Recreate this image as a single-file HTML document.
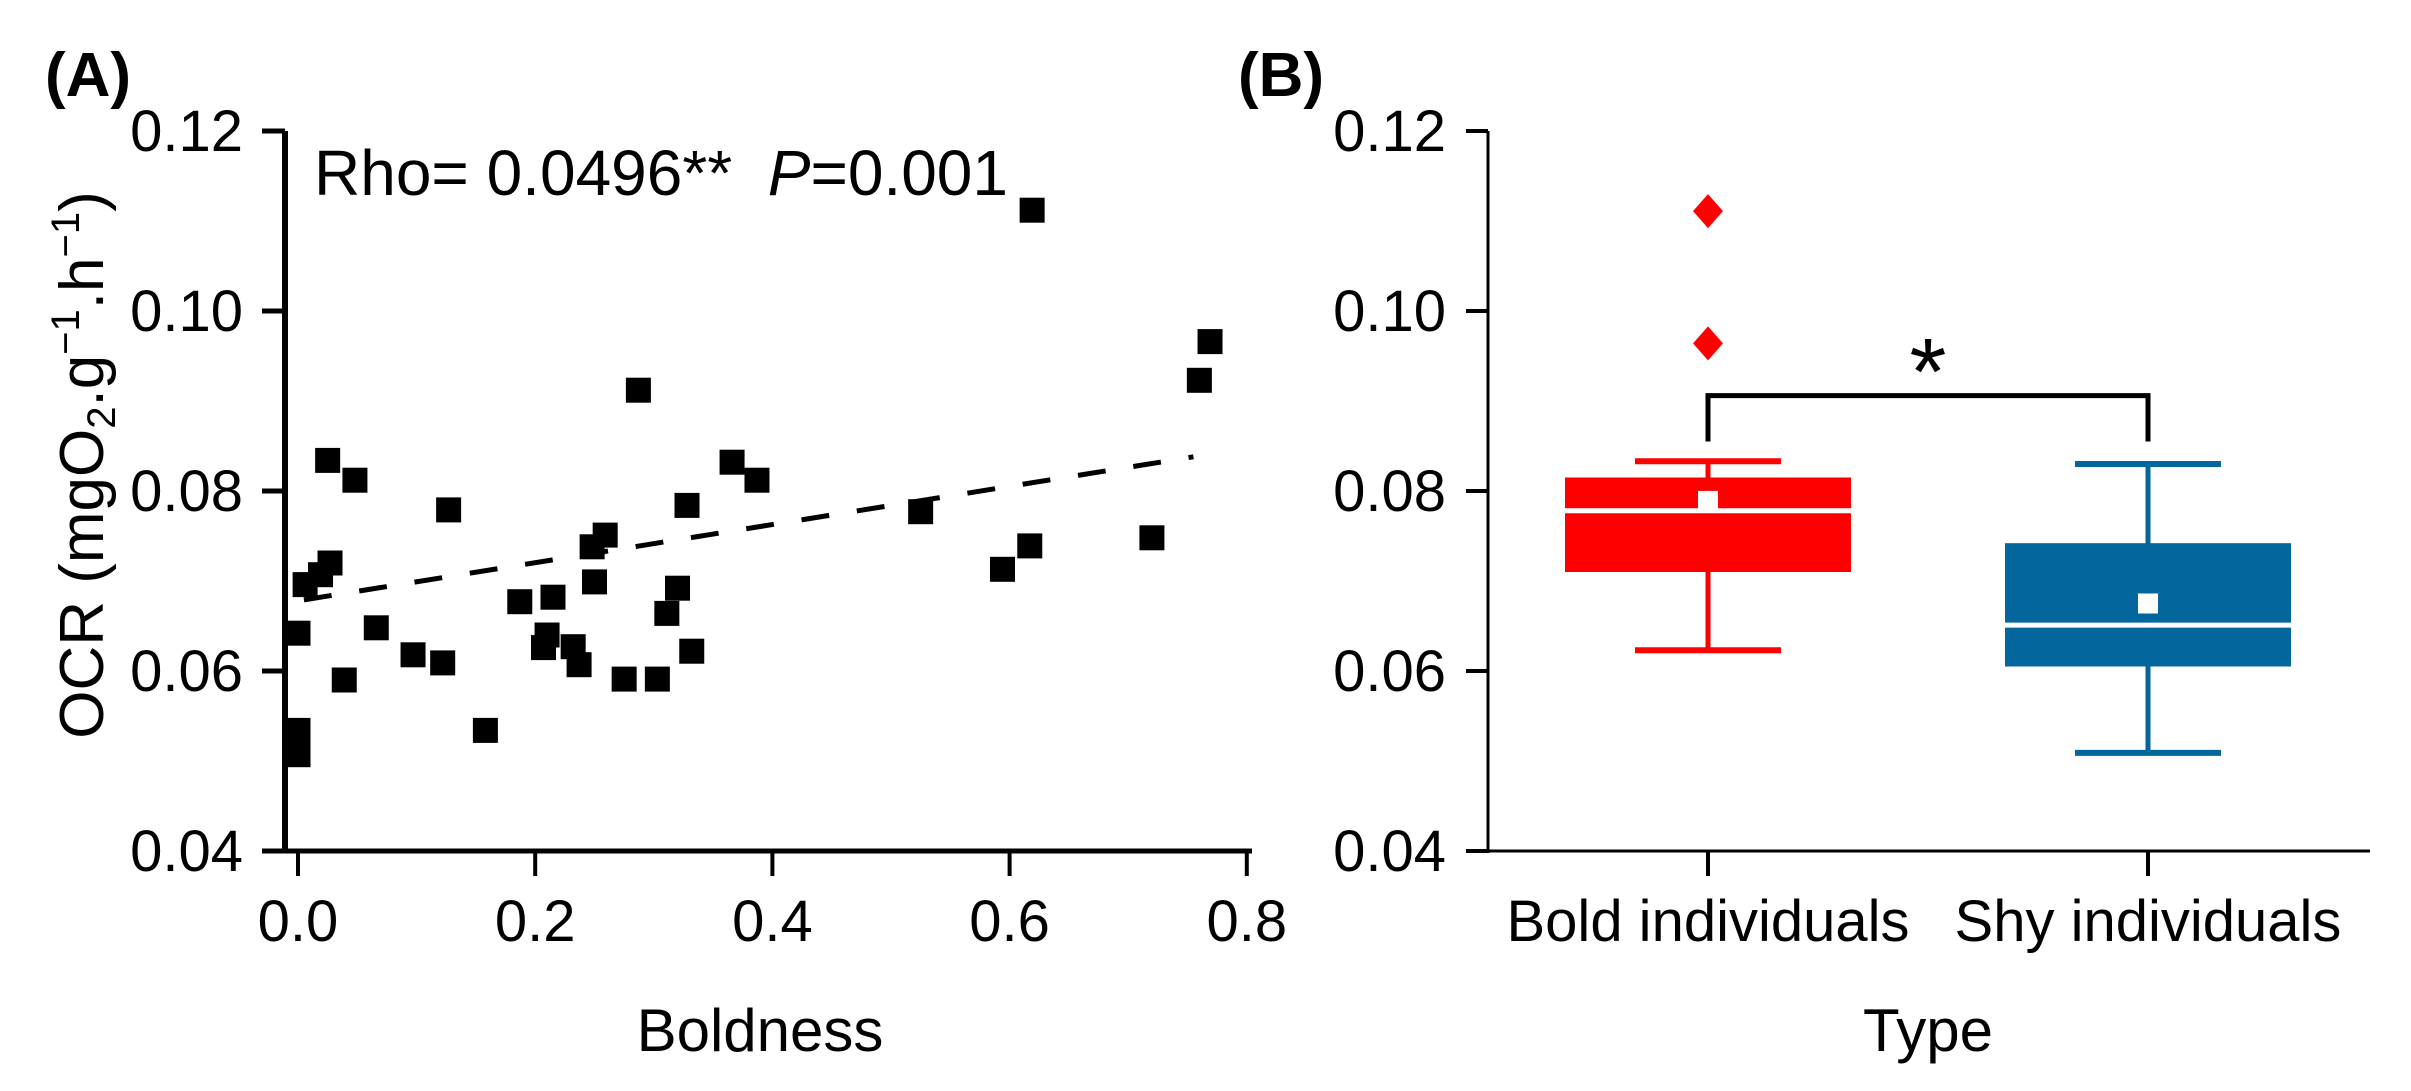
<!DOCTYPE html>
<html><head><meta charset="utf-8"><style>
html,body{margin:0;padding:0;background:#fff;}
svg{display:block;font-family:"Liberation Sans",Arial,sans-serif;}
</style></head><body>
<svg id="fig" width="2411" height="1091" viewBox="0 0 2411 1091" xmlns="http://www.w3.org/2000/svg">
<g id="panelA"></g>
<g id="panelB"></g>
</svg>
<script>
// ---- Panel A data ----
const boldness = [0.025,0.048,0.127,0.027,0.019,0.006,0.0,0.066,0.097,0.122,0.039,0.158,0.0,0.0,0.187,0.215,0.248,0.259,0.250,0.210,0.207,0.232,0.237,0.275,0.303,0.320,0.311,0.332,0.328,0.366,0.387,0.287,0.619,0.769,0.760,0.525,0.617,0.594,0.720];
const ocr = [0.0834,0.0812,0.0779,0.0720,0.0707,0.0696,0.0642,0.0648,0.0618,0.0609,0.0590,0.0534,0.0534,0.0507,0.0677,0.0682,0.0738,0.0751,0.0699,0.0640,0.0626,0.0627,0.0607,0.0591,0.0591,0.0692,0.0664,0.0622,0.0784,0.0832,0.0812,0.0912,0.1112,0.0966,0.0923,0.0777,0.0739,0.0713,0.0748];
const fitX = [0.005,0.755];
const fitY = [0.0679,0.0838];
const xTicksA = [0.0,0.2,0.4,0.6,0.8];
const yTicks = [0.04,0.06,0.08,0.10,0.12];
// ---- Panel B data ----
const groups = ["Bold individuals","Shy individuals"];
const whiskLo = [0.0623,0.0509];
const q1 = [0.0710,0.0605];
const medians = [0.0778,0.0651];
const means = [0.0789,0.0675];
const q3 = [0.0815,0.0742];
const whiskHi = [0.0833,0.0830];
const outliers = [[0.1111,0.0964],[]];
const groupColors = ["#ff0000","#03669c"];
const bracketTop = 0.0906, bracketBottom = 0.0855;

const NS="http://www.w3.org/2000/svg";
function mk(parent,tag,attrs,text){const e=document.createElementNS(NS,tag);for(const k in attrs)e.setAttribute(k,attrs[k]);if(text!==undefined)e.textContent=text;parent.appendChild(e);return e;}
const yS = v => 131 + (0.12 - v) * 9000;
const xA = v => 298 + v * 1186;
const xB = i => [1708,2148][i];

const A=document.getElementById('panelA');
let e;
e=mk(A,'line',{x1:285,y1:131,x2:285,y2:853,stroke:'#000','stroke-width':6});


e=mk(A,'line',{x1:263,y1:851,x2:1252,y2:851,stroke:'#000','stroke-width':5});


yTicks.forEach(t=>{
  e=mk(A,'line',{x1:262,y1:yS(t),x2:285,y2:yS(t),stroke:'#000','stroke-width':5});
  
  
  e=mk(A,'text',{x:243,y:yS(t)+20,'font-size':58,'text-anchor':'end'},t.toFixed(2));
  
  
});
xTicksA.forEach(t=>{
  e=mk(A,'line',{x1:xA(t),y1:851,x2:xA(t),y2:876,stroke:'#000','stroke-width':4});
  
  
  e=mk(A,'text',{x:xA(t),y:941,'font-size':58,'text-anchor':'middle'},t.toFixed(1));
  
  
});
e=mk(A,'text',{x:760,y:1051,'font-size':60,'text-anchor':'middle'},'Boldness');


const yt=mk(A,'text',{x:0,y:0,'font-size':62,'text-anchor':'middle',transform:'translate(103,465) rotate(-90)'});


mk(yt,'tspan',{},'OCR (mgO');
mk(yt,'tspan',{'font-size':40,dy:12},'2');
mk(yt,'tspan',{dy:-12},'.g');
mk(yt,'tspan',{'font-size':40,dy:-24},'\u22121');
mk(yt,'tspan',{dy:24},'.h');
mk(yt,'tspan',{'font-size':40,dy:-24},'\u22121');
mk(yt,'tspan',{dy:24},')');
e=mk(A,'text',{x:45,y:96,'font-size':62,'font-weight':'bold'},'(A)');


const st=mk(A,'text',{x:314,y:195,'font-size':64,textLength:694,lengthAdjust:'spacingAndGlyphs'});


mk(st,'tspan',{},'Rho= 0.0496**\u00a0\u00a0');
mk(st,'tspan',{'font-style':'italic'},'P');
mk(st,'tspan',{},'=0.001');
e=mk(A,'line',{x1:xA(fitX[0]),y1:yS(fitY[0]),x2:xA(fitX[1]),y2:yS(fitY[1]),stroke:'#000','stroke-width':5,'stroke-dasharray':'28 28'});


boldness.forEach((b,i)=>{
  const p=mk(A,'rect',{x:xA(b)-12.5,y:yS(ocr[i])-12.5,width:25,height:25,fill:'#000'});
  
  
});

const B=document.getElementById('panelB');
e=mk(B,'line',{x1:1488,y1:131,x2:1488,y2:853,stroke:'#000','stroke-width':3});


e=mk(B,'line',{x1:1468,y1:851,x2:2370,y2:851,stroke:'#000','stroke-width':3});


yTicks.forEach(t=>{
  e=mk(B,'line',{x1:1466,y1:yS(t),x2:1488,y2:yS(t),stroke:'#000','stroke-width':4});
  
  
  e=mk(B,'text',{x:1446,y:yS(t)+20,'font-size':58,'text-anchor':'end'},t.toFixed(2));
  
  
});
groups.forEach((g,i)=>{
  const cx=xB(i), c=groupColors[i];
  e=mk(B,'line',{x1:cx,y1:851,x2:cx,y2:876,stroke:'#000','stroke-width':4});
  
  
  e=mk(B,'text',{x:cx,y:941,'font-size':58,'text-anchor':'middle'},g);
  
  
  e=mk(B,'line',{x1:cx,y1:yS(whiskHi[i]),x2:cx,y2:yS(whiskLo[i]),stroke:c,'stroke-width':5});
  
  
  [whiskHi[i],whiskLo[i]].forEach(v=>{
    e=mk(B,'line',{x1:cx-73,y1:yS(v),x2:cx+73,y2:yS(v),stroke:c,'stroke-width':6});
    
    
  });
  e=mk(B,'rect',{x:cx-143,y:yS(q3[i]),width:286,height:yS(q1[i])-yS(q3[i]),fill:c});
  
  
  e=mk(B,'line',{x1:cx-143,y1:yS(medians[i]),x2:cx+143,y2:yS(medians[i]),stroke:'#fff','stroke-width':5});
  
  
  e=mk(B,'rect',{x:cx-10,y:yS(means[i])-10,width:20,height:20,fill:'#fff'});
  
  
  outliers[i].forEach(v=>{
    const y=yS(v);
    e=mk(B,'polygon',{points:`${cx},${y-17} ${cx+15},${y} ${cx},${y+17} ${cx-15},${y}`,fill:c});
    
    
  });
});
e=mk(B,'polyline',{points:`${xB(0)},${yS(bracketBottom)} ${xB(0)},${yS(bracketTop)} ${xB(1)},${yS(bracketTop)} ${xB(1)},${yS(bracketBottom)}`,fill:'none',stroke:'#000','stroke-width':5});


e=mk(B,'text',{x:(xB(0)+xB(1))/2,y:404,'font-size':95,'text-anchor':'middle'},'*');


e=mk(B,'text',{x:1928,y:1051,'font-size':60,'text-anchor':'middle'},'Type');


e=mk(B,'text',{x:1238,y:96,'font-size':62,'font-weight':'bold'},'(B)');


</script>
</body></html>
